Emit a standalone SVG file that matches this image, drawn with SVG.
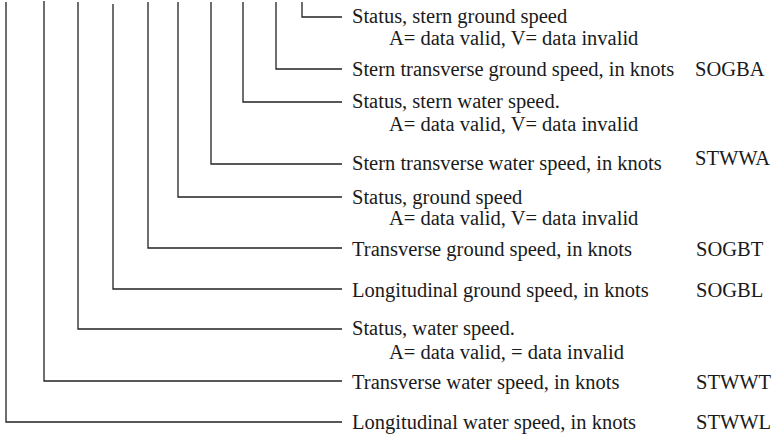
<svg xmlns="http://www.w3.org/2000/svg" width="778" height="436" viewBox="0 0 778 436">
<rect width="778" height="436" fill="#fff"/>
<g id="connectors" fill="none" stroke="#222" stroke-width="1.3">
<path d="M302,2V17H342"/>
<path d="M276,2V69H342"/>
<path d="M243,2V102H342"/>
<path d="M211,2V164H342"/>
<path d="M178,2V197H342"/>
<path d="M148,2V248H342"/>
<path d="M113,4V289H342"/>
<path d="M78,2V329H342"/>
<path d="M44,1V381H342"/>
<path d="M6,2V422H342"/>
</g>
<g id="n1" font-family="Liberation Serif, serif" font-size="20.5" fill="#1a1a1a"><text x="352" y="23">Status, stern ground speed</text><text x="389" y="45">A= data valid, V= data invalid</text></g>
<g id="n2" font-family="Liberation Serif, serif" font-size="20.5" fill="#1a1a1a"><text x="352" y="76">Stern transverse ground speed, in knots</text><text x="695" y="76">SOGBA</text></g>
<g id="n3" font-family="Liberation Serif, serif" font-size="20.5" fill="#1a1a1a"><text x="352" y="108">Status, stern water speed.</text><text x="389" y="131">A= data valid, V= data invalid</text></g>
<g id="n4" font-family="Liberation Serif, serif" font-size="20.5" fill="#1a1a1a"><text x="352" y="170">Stern transverse water speed, in knots</text><text x="695" y="165">STWWA</text></g>
<g id="n5" font-family="Liberation Serif, serif" font-size="20.5" fill="#1a1a1a"><text x="352" y="204">Status, ground speed</text><text x="389" y="225">A= data valid, V= data invalid</text></g>
<g id="n6" font-family="Liberation Serif, serif" font-size="20.5" fill="#1a1a1a"><text x="352" y="256">Transverse ground speed, in knots</text><text x="696" y="256">SOGBT</text></g>
<g id="n7" font-family="Liberation Serif, serif" font-size="20.5" fill="#1a1a1a"><text x="352" y="297">Longitudinal ground speed, in knots</text><text x="696" y="297">SOGBL</text></g>
<g id="n8" font-family="Liberation Serif, serif" font-size="20.5" fill="#1a1a1a"><text x="352" y="335">Status, water speed.</text><text x="389" y="359">A= data valid, = data invalid</text></g>
<g id="n9" font-family="Liberation Serif, serif" font-size="20.5" fill="#1a1a1a"><text x="352" y="389">Transverse water speed, in knots</text><text x="696" y="389">STWWT</text></g>
<g id="n10" font-family="Liberation Serif, serif" font-size="20.5" fill="#1a1a1a"><text x="352" y="429">Longitudinal water speed, in knots</text><text x="696" y="429">STWWL</text></g>
</svg>
